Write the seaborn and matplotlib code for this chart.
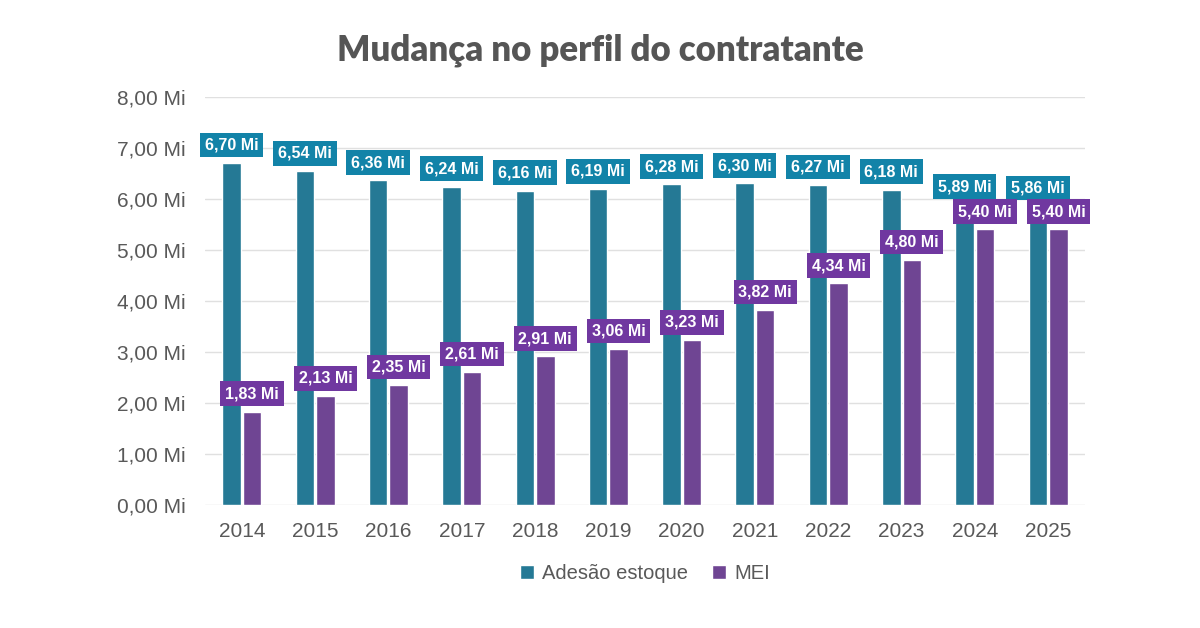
import pandas as pd
import matplotlib.pyplot as plt
import seaborn as sns

years = [str(y) for y in range(2014, 2026)]
adesao = [6.70, 6.54, 6.36, 6.24, 6.16, 6.19, 6.28, 6.30, 6.27, 6.18, 5.89, 5.86]
mei = [1.83, 2.13, 2.35, 2.61, 2.91, 3.06, 3.23, 3.82, 4.34, 4.80, 5.40, 5.40]
series = ['Adesão estoque', 'MEI']
colors = ['#1283A8', '#7038A0']

df = pd.DataFrame({
    'ano': years * 2,
    'valor': adesao + mei,
    'serie': [series[0]] * len(years) + [series[1]] * len(years),
})

sns.set_theme(style='white')
plt.rcParams['font.family'] = ['Liberation Sans', 'DejaVu Sans']

fig = plt.figure(figsize=(12, 6.28), dpi=100)
ax = fig.add_axes([0.171, 0.196, 0.733, 0.65])
sns.barplot(data=df, x='ano', y='valor', hue='serie', palette=colors,
            width=0.56, gap=0.1, ax=ax, legend=True)

for cont, col in zip(ax.containers, colors):
    for bar in cont:
        h = bar.get_height()
        ax.text(bar.get_x() + bar.get_width() / 2, h + 0.35,
                f'{h:.2f} Mi'.replace('.', ','), ha='center', va='center',
                color='white', fontsize=11.5, fontweight='bold',
                bbox=dict(boxstyle='square,pad=0.3', fc=col, ec='none'))

ax.set_ylim(0, 8)
ax.set_yticks(range(0, 9))
ax.set_yticklabels([f'{v},00 Mi' for v in range(0, 9)])
ax.yaxis.grid(True, color='#E0E0E0', lw=1)
ax.set_axisbelow(True)
for s in ax.spines.values():
    s.set_visible(False)
ax.set_xlabel('')
ax.set_ylabel('')
ax.tick_params(axis='both', labelsize=15, colors='#595959', length=0)
ax.tick_params(axis='x', pad=12)
ax.tick_params(axis='y', pad=14)

ax.legend(loc='upper center', bbox_to_anchor=(0.5, -0.1), ncol=2, frameon=False,
          fontsize=14.5, handlelength=0.7, handleheight=0.7, columnspacing=1.2,
          handletextpad=0.4, labelcolor='#595959')

fig.text(0.5, 0.92, 'Mudança no perfil do contratante', ha='center', va='center',
         fontsize=25, fontweight='heavy', color='#555555', family=['Lato', 'DejaVu Sans'])

fig.savefig('out.png', dpi=100, facecolor='white')
